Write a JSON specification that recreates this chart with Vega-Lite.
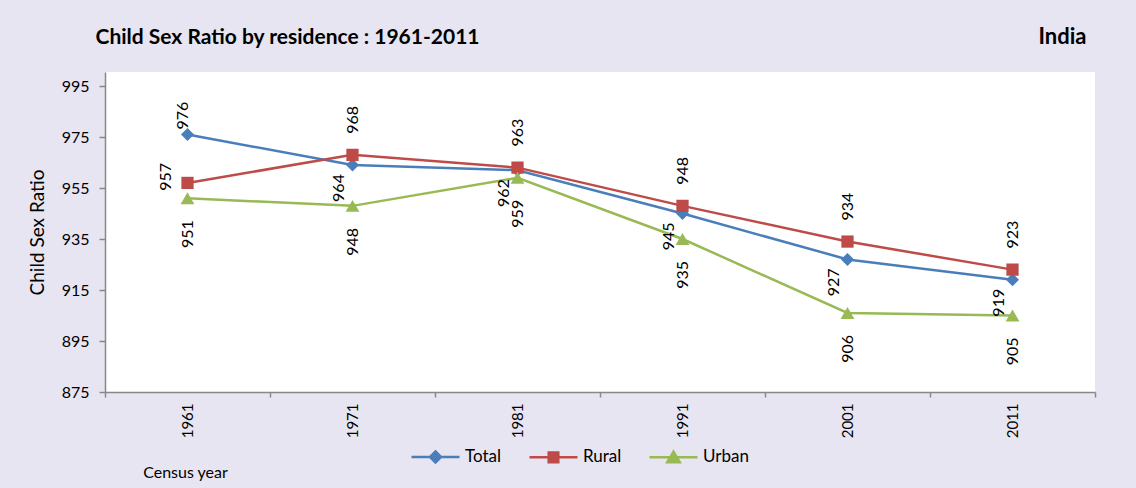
{
  "$schema": "https://vega.github.io/schema/vega-lite/v6.json",
  "width": 990,
  "height": 320,
  "autosize": {"type": "none"},
  "padding": {"left": 105, "top": 72, "right": 41, "bottom": 96},
  "background": "#E7E5F1",
  "config": {
    "font": "Lato",
    "view": {"fill": "white", "stroke": null},
    "axis": {"labelColor": "black", "titleColor": "black", "titleFontWeight": "normal", "grid": false}
  },
  "data": {
    "values": [
      {"year": 1961, "series": "Total", "ratio": 976},
      {"year": 1971, "series": "Total", "ratio": 964},
      {"year": 1981, "series": "Total", "ratio": 962},
      {"year": 1991, "series": "Total", "ratio": 945},
      {"year": 2001, "series": "Total", "ratio": 927},
      {"year": 2011, "series": "Total", "ratio": 919},
      {"year": 1961, "series": "Rural", "ratio": 957},
      {"year": 1971, "series": "Rural", "ratio": 968},
      {"year": 1981, "series": "Rural", "ratio": 963},
      {"year": 1991, "series": "Rural", "ratio": 948},
      {"year": 2001, "series": "Rural", "ratio": 934},
      {"year": 2011, "series": "Rural", "ratio": 923},
      {"year": 1961, "series": "Urban", "ratio": 951},
      {"year": 1971, "series": "Urban", "ratio": 948},
      {"year": 1981, "series": "Urban", "ratio": 959},
      {"year": 1991, "series": "Urban", "ratio": 935},
      {"year": 2001, "series": "Urban", "ratio": 906},
      {"year": 2011, "series": "Urban", "ratio": 905}
    ]
  },
  "encoding": {
    "y": {
      "field": "ratio",
      "type": "quantitative",
      "scale": {"domain": [875, 1000.5], "nice": false, "zero": false},
      "axis": {
        "title": "Child Sex Ratio",
        "values": [875, 895, 915, 935, 955, 975, 995],
        "domainColor": "#888888",
        "domainWidth": 1.5,
        "tickColor": "#888888",
        "tickWidth": 1.5,
        "tickSize": 6,
        "labelPadding": 10,
        "labelFontSize": 16,
        "titleFontSize": 19,
        "titleX": -62,
        "titleBaseline": "alphabetic"
      }
    }
  },
  "layer": [
    {
      "mark": {"type": "line", "strokeWidth": 2.5},
      "encoding": {
        "x": {
          "field": "year",
          "type": "ordinal",
          "scale": {"type": "band", "paddingInner": 0, "paddingOuter": 0},
          "axis": {
            "title": "Census year",
            "tickBand": "extent",
            "labelAngle": 270,
            "labelFontSize": 15,
            "labelPadding": 6,
            "tickSize": 5,
            "tickColor": "#888888",
            "tickWidth": 1.5,
            "domainColor": "#888888",
            "domainWidth": 1.5,
            "titleFontSize": 16,
            "titleX": 80,
            "titleY": 80,
            "titleAlign": "center",
            "titleBaseline": "middle"
          }
        },
        "color": {
          "field": "series",
          "type": "nominal",
          "scale": {"domain": ["Total", "Rural", "Urban"], "range": ["#4A7EBB", "#BE4B48", "#98B954"]},
          "legend": {
            "title": null,
            "orient": "none",
            "legendX": 305,
            "legendY": 359,
            "direction": "horizontal",
            "padding": 0,
            "symbolSize": 2304,
            "symbolStrokeWidth": 2.5,
            "labelFontSize": 17,
            "labelColor": "black",
            "labelOffset": 4,
            "columnPadding": 22,
            "encode": {
              "symbols": {
                "update": {
                  "shape": {"signal": "datum.value === 'Total' ? 'M-1,0H1M0,-0.23L0.23,0L0,0.23L-0.23,0Z' : datum.value === 'Rural' ? 'M-1,0H1M-0.2,-0.2H0.2V0.2H-0.2Z' : 'M-1,0H1M0,-0.24L0.26,0.2H-0.26Z'"},
                  "stroke": {"signal": "scale('color', datum.value)"},
                  "fill": {"signal": "scale('color', datum.value)"},
                  "strokeWidth": {"value": 2.5},
                  "opacity": {"value": 1}
                }
              }
            }
          }
        }
      }
    },
    {
      "transform": [{"filter": "datum.series === 'Total'"}],
      "mark": {"type": "point", "shape": "diamond", "filled": true, "opacity": 1, "size": 170},
      "encoding": {
        "x": {
          "field": "year",
          "type": "ordinal",
          "scale": {"type": "band", "paddingInner": 0, "paddingOuter": 0},
          "axis": {
            "orient": "top",
            "title": "Child Sex Ratio by residence : 1961-2011",
            "labels": false,
            "ticks": false,
            "domain": false,
            "titleX": -10,
            "titleY": -29,
            "titleAlign": "left",
            "titleBaseline": "alphabetic",
            "titleFontSize": 21,
            "titleFontWeight": "bold"
          }
        },
        "color": {"field": "series", "type": "nominal"}
      }
    },
    {
      "transform": [{"filter": "datum.series === 'Rural'"}],
      "mark": {"type": "point", "shape": "square", "filled": true, "opacity": 1, "size": 150},
      "encoding": {
        "x": {"field": "year", "type": "ordinal", "scale": {"type": "band", "paddingInner": 0, "paddingOuter": 0}, "axis": null},
        "color": {"field": "series", "type": "nominal"}
      }
    },
    {
      "transform": [{"filter": "datum.series === 'Urban'"}],
      "mark": {"type": "point", "shape": "triangle-up", "filled": true, "opacity": 1, "size": 190},
      "encoding": {
        "x": {"field": "year", "type": "ordinal", "scale": {"type": "band", "paddingInner": 0, "paddingOuter": 0}, "axis": null},
        "color": {"field": "series", "type": "nominal"}
      }
    },
    {
      "transform": [{"filter": "datum.series === 'Total' && datum.year == 1961"}],
      "mark": {"type": "text", "angle": 270, "align": "left", "baseline": "middle", "dx": 5, "dy": -5, "fontSize": 16, "color": "black"},
      "encoding": {
        "x": {"field": "year", "type": "ordinal", "scale": {"type": "band", "paddingInner": 0, "paddingOuter": 0}, "axis": null},
        "text": {"field": "ratio", "type": "quantitative"}
      }
    },
    {
      "transform": [{"filter": "datum.series === 'Total' && datum.year != 1961"}],
      "mark": {"type": "text", "angle": 270, "align": "right", "baseline": "middle", "dx": -9, "dy": -14, "fontSize": 16, "color": "black"},
      "encoding": {
        "x": {"field": "year", "type": "ordinal", "scale": {"type": "band", "paddingInner": 0, "paddingOuter": 0}, "axis": null},
        "text": {"field": "ratio", "type": "quantitative"}
      }
    },
    {
      "transform": [{"filter": "datum.series === 'Rural' && datum.year == 1961"}],
      "mark": {"type": "text", "angle": 270, "align": "center", "baseline": "middle", "dx": 6, "dy": -22, "fontSize": 16, "color": "black"},
      "encoding": {
        "x": {"field": "year", "type": "ordinal", "scale": {"type": "band", "paddingInner": 0, "paddingOuter": 0}, "axis": null},
        "text": {"field": "ratio", "type": "quantitative"}
      }
    },
    {
      "transform": [{"filter": "datum.series === 'Rural' && datum.year != 1961"}],
      "mark": {"type": "text", "angle": 270, "align": "left", "baseline": "middle", "dx": 21, "dy": 0, "fontSize": 16, "color": "black"},
      "encoding": {
        "x": {"field": "year", "type": "ordinal", "scale": {"type": "band", "paddingInner": 0, "paddingOuter": 0}, "axis": null},
        "text": {"field": "ratio", "type": "quantitative"}
      }
    },
    {
      "transform": [{"filter": "datum.series === 'Urban'"}],
      "mark": {"type": "text", "angle": 270, "align": "right", "baseline": "middle", "dx": -22, "dy": 0, "fontSize": 16, "color": "black"},
      "encoding": {
        "x": {
          "field": "year",
          "type": "ordinal",
          "scale": {"type": "band", "paddingInner": 0, "paddingOuter": 0},
          "axis": {
            "orient": "top",
            "title": "India",
            "labels": false,
            "ticks": false,
            "domain": false,
            "titleX": 981,
            "titleY": -29,
            "titleAlign": "right",
            "titleBaseline": "alphabetic",
            "titleFontSize": 22,
            "titleFontWeight": "bold"
          }
        },
        "text": {"field": "ratio", "type": "quantitative"}
      }
    }
  ],
  "resolve": {"axis": {"x": "independent"}}
}
